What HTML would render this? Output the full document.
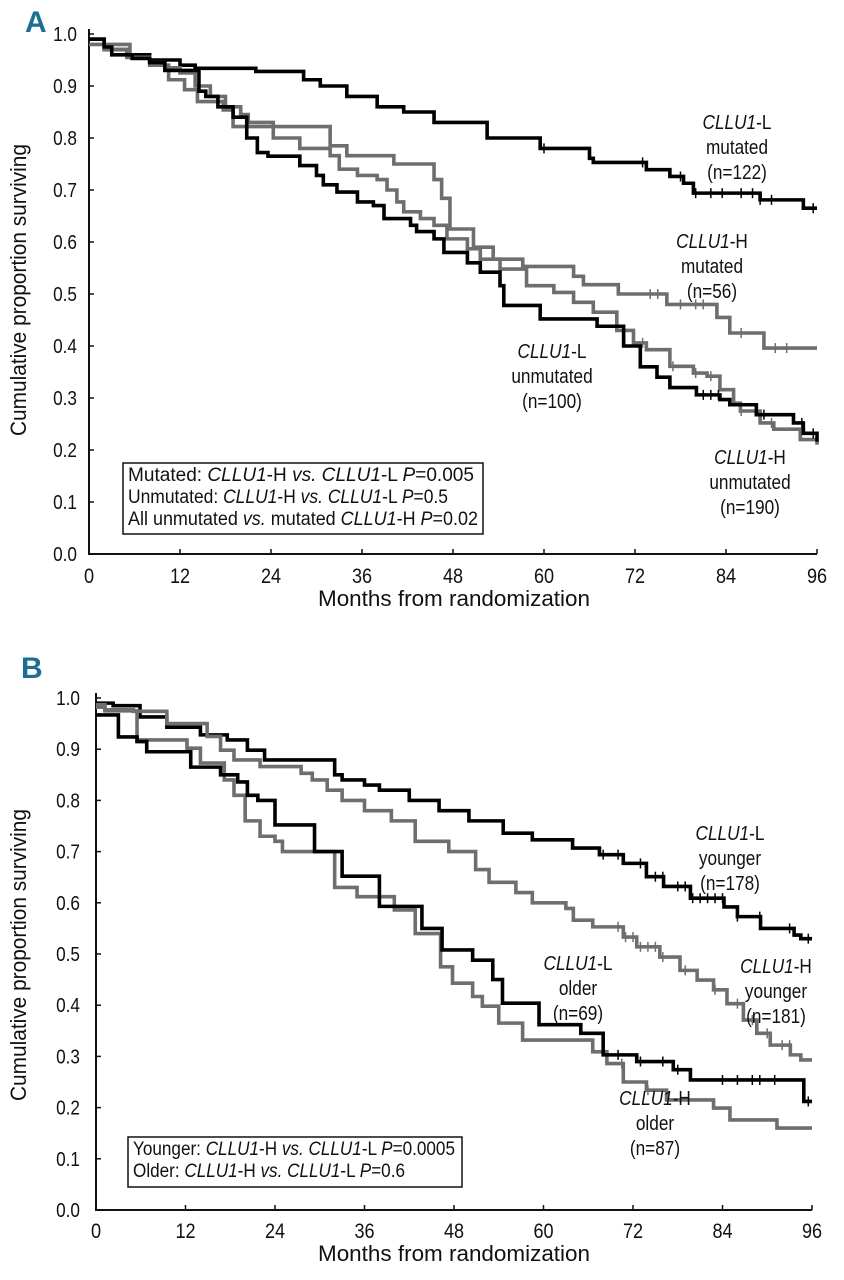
<!DOCTYPE html>
<html><head><meta charset="utf-8"><style>
html,body{margin:0;padding:0;background:#fff;}
svg{display:block;}
text{font-family:"Liberation Sans Narrow","Liberation Sans",sans-serif;fill:#111;}
</style></head><body>
<svg id="fig" width="844" height="1280" viewBox="0 0 844 1280" xmlns="http://www.w3.org/2000/svg"></svg>
<script>
// ---------- Panel A data ----------
const xTicks = [0,12,24,36,48,60,72,84,96];
const yTicks = [0.0,0.1,0.2,0.3,0.4,0.5,0.6,0.7,0.8,0.9,1.0];
const yTickLabels = ["0.0","0.1","0.2","0.3","0.4","0.5","0.6","0.7","0.8","0.9","1.0"];

const aLmutT = [0,2,5,8,12,14,22,28.3,30.5,34,38,41.5,45.5,52.5,59.5,66,66.5,73.5,76.6,78.4,79.7,88.5,94.2,96];
const aLmutV = [0.99,0.97,0.96,0.95,0.94,0.934,0.928,0.912,0.90,0.88,0.86,0.85,0.83,0.80,0.78,0.761,0.753,0.739,0.726,0.713,0.694,0.681,0.665,0.665];
const aHmutT = [0,5.4,8,10.5,12.6,14.3,17.7,19,31.8,34,40.2,45.5,46.5,47.6,50.7,53.3,57.2,63.9,65.2,69.8,76.2,82.8,84.5,89,96];
const aHmutV = [0.98,0.955,0.94,0.912,0.893,0.87,0.854,0.822,0.785,0.766,0.75,0.72,0.684,0.625,0.59,0.567,0.553,0.534,0.518,0.50,0.48,0.455,0.425,0.396,0.396];
const aLunT = [0,2,3,5.7,8,10,14.5,15.4,17,19,20.8,22.2,23.6,27.8,30,30.9,32.7,35.4,37.5,38.9,42.4,43.2,45.5,46.8,49.9,51.6,54.2,54.7,59.5,67,70.5,72.7,74.9,76.6,80.1,83.2,84.5,88,92.9,94.2,96];
const aLunV = [0.99,0.975,0.96,0.953,0.945,0.93,0.89,0.88,0.86,0.84,0.80,0.772,0.765,0.747,0.728,0.71,0.696,0.677,0.67,0.645,0.632,0.62,0.606,0.58,0.56,0.542,0.516,0.478,0.452,0.438,0.40,0.36,0.34,0.32,0.306,0.297,0.287,0.268,0.252,0.232,0.216];
const aHunT = [0,2,5,8,10,12,14,16,18,20,21,24.3,27.8,31.8,33,35.4,38,39.3,40.6,41.5,43.7,45.5,47.2,49.9,51.6,54.2,57.7,61.3,63.9,66.5,69.6,71.8,73.5,76.6,79.7,81.5,83.2,85,85.9,88.5,90.3,93.8,96];
const aHunV = [0.99,0.97,0.955,0.945,0.935,0.925,0.90,0.88,0.86,0.845,0.83,0.80,0.78,0.766,0.74,0.728,0.72,0.70,0.677,0.658,0.645,0.632,0.606,0.587,0.567,0.548,0.516,0.503,0.484,0.465,0.43,0.406,0.393,0.361,0.348,0.342,0.316,0.29,0.275,0.252,0.24,0.22,0.21];
const aLmutCens = [60,73,78,80,82,83.5,86,87.5,88.5,90,95.5];
const aHmutCens = [74,75,78,80,81,86,90.5,92];
const aLunCens = [81,82,83,89,94,95.5];
const aHunCens = [73,77,80,82,86,88,90];

// ---------- Panel B data ----------
const bLyT = [0,2.3,5.9,9.5,14,17.6,20.3,22.6,32,33,36,38,42,46,50,54.6,58.5,63.9,67.5,70.7,73.8,76.1,79.7,84.2,86,89.1,93.6,94.5,96];
const bLyV = [0.99,0.985,0.963,0.943,0.928,0.918,0.898,0.879,0.85,0.84,0.83,0.82,0.80,0.78,0.76,0.736,0.723,0.707,0.694,0.677,0.651,0.632,0.609,0.592,0.573,0.55,0.537,0.53,0.53];
const bHyT = [0,1.2,5,9.5,14.9,16.7,18.5,22,27.5,29,31,33,36,39.6,42.8,47.3,50.9,52.7,56.3,58.5,63,64,66.6,70.7,72.5,75.6,78.3,80.6,82.8,84.6,86.8,88.6,90.4,93.1,94.5,96];
const bHyV = [0.987,0.977,0.974,0.95,0.925,0.898,0.879,0.866,0.853,0.84,0.82,0.80,0.78,0.76,0.72,0.70,0.665,0.64,0.62,0.60,0.589,0.566,0.553,0.533,0.514,0.494,0.468,0.449,0.43,0.403,0.371,0.345,0.322,0.303,0.293,0.293];
const bLoT = [0,1.8,3,5.5,6.8,12.7,16.7,19,20.3,21.7,24,29.3,33,38,43.7,46.4,50.5,53.2,54.5,59.4,65,67,68,72.5,77.4,79.7,94.9,96];
const bLoV = [0.967,0.967,0.924,0.915,0.895,0.865,0.85,0.836,0.81,0.80,0.752,0.70,0.652,0.593,0.55,0.508,0.488,0.45,0.404,0.362,0.345,0.345,0.303,0.29,0.274,0.254,0.212,0.212];
const bHoT = [0,1.2,5.5,12.2,14,17.2,18.5,20,22,24,25,32,35,40,42.8,46.2,47.8,50.5,51.8,54,57.2,64,66.6,68.5,70.7,73.8,76.5,82.8,85,91.3,96];
const bHoV = [0.982,0.975,0.918,0.902,0.873,0.84,0.81,0.76,0.73,0.72,0.70,0.63,0.612,0.586,0.54,0.475,0.443,0.417,0.398,0.365,0.332,0.332,0.309,0.286,0.25,0.234,0.215,0.199,0.176,0.16,0.16];
const bLyCens = [68,70,73,75,76,78,79,80,81,82,83,84,86,89,93,95.5];
const bHyCens = [70,71,72,73,74,75,76,79,83,86,88,90,92,93];
const bLoCens = [70,73,76,78,84,86,88,89,91,95.5];
const bHoCens = [70.5,74];

const NS = "http://www.w3.org/2000/svg";
const svg = document.getElementById('fig');
function mk(tag, attrs, parent){
  const e = document.createElementNS(NS, tag);
  for (const k in attrs) e.setAttribute(k, attrs[k]);
  (parent||svg).appendChild(e);
  return e;
}

function panel(cfg){
  const g = mk('g', {});
  
  
  const xs = m => cfg.x0 + (cfg.x1 - cfg.x0) * m / 96;
  const ys = v => cfg.y0 - (cfg.y0 - cfg.y1) * v;
  const L = mk('text', {x:cfg.letterX, y:cfg.letterY, 'font-size':30, 'font-weight':'bold', style:'fill:#1b6f92'}, g);
  L.textContent = cfg.letter;
  
  
  const ax = mk('path', {d:`M${cfg.x0},${ys(1)-5} V${cfg.y0} H${xs(96)}`, stroke:'#111', 'stroke-width':2, fill:'none'}, g);
  
  
  xTicks.forEach(t => {
    const tk = mk('line', {x1:xs(t), x2:xs(t), y1:cfg.y0, y2:cfg.y0-5, stroke:'#111', 'stroke-width':1.5}, g);
    
    
    const tl = mk('text', {x:xs(t), y:cfg.xLabY, 'font-size':21, 'text-anchor':'middle', class:'cond'}, g);
    tl.textContent = String(t);
    
    
  });
  yTicks.forEach((t,i) => {
    const tk = mk('line', {x1:cfg.x0, x2:cfg.x0+5, y1:ys(t), y2:ys(t), stroke:'#111', 'stroke-width':1.5}, g);
    
    
    const tl = mk('text', {x:cfg.yLabX, y:ys(t)+7, 'font-size':20, 'text-anchor':'end', class:'cond'}, g);
    tl.textContent = yTickLabels[i];
    
    
  });
  const xt = mk('text', {x:454, y:cfg.xTitleY, 'font-size':22, 'text-anchor':'middle', textLength:272, lengthAdjust:'spacingAndGlyphs'}, g);
  xt.textContent = 'Months from randomization';
  
  
  const yt = mk('text', {x:0, y:0, 'font-size':22, 'text-anchor':'middle', textLength:292, lengthAdjust:'spacingAndGlyphs', transform:`translate(26,${cfg.yTitleC}) rotate(-90)`}, g);
  yt.textContent = 'Cumulative proportion surviving';
  
  
  cfg.series.forEach(s => {
    let d = `M${xs(s.t[0])},${ys(s.v[0])}`;
    for (let i=1;i<s.t.length;i++){ d += ` H${xs(s.t[i])} V${ys(s.v[i])}`; }
    const p = mk('path', {d, stroke:s.color, 'stroke-width':3.6, fill:'none', 'stroke-linejoin':'miter'}, g);
    
    
    s.cens.forEach(c => {
      let v = s.v[0];
      for (let i=0;i<s.t.length;i++){ if (s.t[i] <= c) v = s.v[i]; }
      const cm = mk('line', {x1:xs(c), x2:xs(c), y1:ys(v)-5, y2:ys(v)+5, stroke:s.color, 'stroke-width':1.5}, g);
      
      
    });
  });
  cfg.notes.forEach(n => {
    const t = mk('text', {x:n.x, y:n.y, 'font-size':20, 'text-anchor':'middle', class:'cond'}, g);
    t.innerHTML = `<tspan font-style="italic">CLLU1</tspan>-${n.h}`;
    
    
    const t2 = mk('text', {x:n.x, y:n.y+25, 'font-size':20, 'text-anchor':'middle', class:'cond'}, g);
    t2.textContent = n.sub;
    
    
    const t3 = mk('text', {x:n.x, y:n.y+50, 'font-size':20, 'text-anchor':'middle', class:'cond'}, g);
    t3.textContent = n.n;
    
    
  });
  const b = cfg.box;
  const r = mk('rect', {x:b.x, y:b.y, width:b.w, height:b.h, fill:'#fff', stroke:'#111', 'stroke-width':1.5}, g);
  
  
  b.lines.forEach((ln,i) => {
    const t = mk('text', {x:b.x+5, y:b.y+18+i*22, 'font-size':19, textLength:ln[1], lengthAdjust:'spacingAndGlyphs'}, g);
    t.innerHTML = ln[0];
    
    
  });
}

const I = s => `<tspan font-style="italic">${s}</tspan>`;
panel({
  name:'panel-a', letter:'A', letterX:25, letterY:32,
  x0:89, x1:817, y0:554, y1:34, xLabY:583, yLabX:77, xTitleY:606, yTitleC:290,
  series:[
    {name:'line-cllu1-l-mutated', t:aLmutT, v:aLmutV, color:'#000', cens:aLmutCens},
    {name:'line-cllu1-h-mutated', t:aHmutT, v:aHmutV, color:'#6e6e6e', cens:aHmutCens},
    {name:'line-cllu1-h-unmutated', t:aHunT, v:aHunV, color:'#6e6e6e', cens:aHunCens},
    {name:'line-cllu1-l-unmutated', t:aLunT, v:aLunV, color:'#000', cens:aLunCens},
  ],
  notes:[
    {x:737, y:129, h:'L', sub:'mutated', n:'(n=122)'},
    {x:712, y:248, h:'H', sub:'mutated', n:'(n=56)'},
    {x:552, y:358, h:'L', sub:'unmutated', n:'(n=100)'},
    {x:750, y:464, h:'H', sub:'unmutated', n:'(n=190)'},
  ],
  box:{x:123, y:463, w:360, h:71, lines:[
    [`Mutated: ${I('CLLU1')}-H ${I('vs.')} ${I('CLLU1')}-L ${I('P')}=0.005`, 346],
    [`Unmutated: ${I('CLLU1')}-H ${I('vs.')} ${I('CLLU1')}-L ${I('P')}=0.5`, 320],
    [`All unmutated ${I('vs.')} mutated ${I('CLLU1')}-H ${I('P')}=0.02`, 350],
  ]}
});
panel({
  name:'panel-b', letter:'B', letterX:21, letterY:678,
  x0:96, x1:812, y0:1210, y1:698, xLabY:1238, yLabX:80, xTitleY:1261, yTitleC:955,
  series:[
    {name:'line-cllu1-l-younger', t:bLyT, v:bLyV, color:'#000', cens:bLyCens},
    {name:'line-cllu1-h-younger', t:bHyT, v:bHyV, color:'#6e6e6e', cens:bHyCens},
    {name:'line-cllu1-h-older', t:bHoT, v:bHoV, color:'#6e6e6e', cens:bHoCens},
    {name:'line-cllu1-l-older', t:bLoT, v:bLoV, color:'#000', cens:bLoCens},
  ],
  notes:[
    {x:730, y:840, h:'L', sub:'younger', n:'(n=178)'},
    {x:776, y:973, h:'H', sub:'younger', n:'(n=181)'},
    {x:578, y:970, h:'L', sub:'older', n:'(n=69)'},
    {x:655, y:1105, h:'H', sub:'older', n:'(n=87)'},
  ],
  box:{x:128, y:1137, w:334, h:50, lines:[
    [`Younger: ${I('CLLU1')}-H ${I('vs.')} ${I('CLLU1')}-L ${I('P')}=0.0005`, 322],
    [`Older: ${I('CLLU1')}-H ${I('vs.')} ${I('CLLU1')}-L ${I('P')}=0.6`, 272],
  ]}
});
// condense text to mimic a narrow typeface
document.querySelectorAll('text.cond').forEach(t => {
  const w = t.getComputedTextLength();
  if (w > 0) {
    t.setAttribute('textLength', (w * 0.86).toFixed(1));
    t.setAttribute('lengthAdjust', 'spacingAndGlyphs');
  }
});
</script>
</body></html>
